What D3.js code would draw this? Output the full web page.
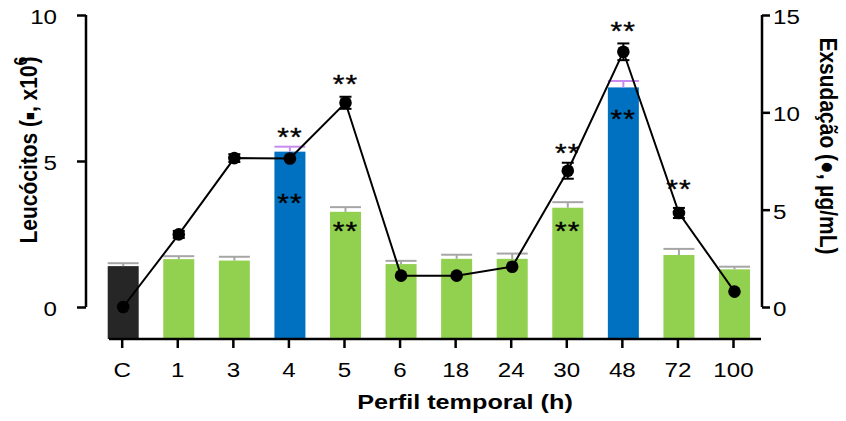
<!DOCTYPE html>
<html>
<head>
<meta charset="utf-8">
<script src="https://cdn.jsdelivr.net/npm/d3@7/dist/d3.min.js"></script>
<style>
  html, body { margin: 0; padding: 0; background: #fff; }
  svg { display: block; font-family: "Liberation Sans", Arial, sans-serif; }
</style>
</head>
<body>
<svg id="chart" width="846" height="421"></svg>
<script>
// Time points (h) and measurements
const categories = ["C", "1", "3", "4", "5", "6", "18", "24", "30", "48", "72", "100"];
// Leucocytes (x10^6), bars, left axis
const leuco    = [1.40, 1.64, 1.59, 5.32, 3.26, 1.47, 1.65, 1.65, 3.40, 7.52, 1.78, 1.29];
const leucoErr = [0.10, 0.10, 0.13, 0.17, 0.16, 0.11, 0.14, 0.18, 0.19, 0.22, 0.21, 0.09];
// Exudation (µg/mL), line, right axis
const exsud    = [0.00, 3.73, 7.65, 7.63, 10.49, 1.61, 1.61, 2.07, 7.00, 13.11, 4.83, 0.79];
const exsudErr = [0.00, 0.18, 0.20, 0.00, 0.31, 0.00, 0.00, 0.00, 0.41, 0.43, 0.26, 0.00];
// Bar groups: control, regular time point, peak time point
const barGroup = ["control", "time", "time", "peak", "time", "time", "time", "time", "time", "peak", "time", "time"];
// Significance (**) marks
const sigLine = ["4", "5", "30", "48", "72"];
const sigBar  = ["4", "5", "30", "48"];
// Axis ticks
const leftTicks  = [0, 5, 10];
const rightTicks = [0, 5, 10, 15];

const svg = d3.select("#chart");
const FONT = "'Liberation Sans', Arial, sans-serif";
const STRETCH = 1.15;

const x  = d3.scalePoint().domain(categories).range([121.7, 733]);
const yL = d3.scaleLinear().domain([0, 10]).range([307, 15]);
const yR = d3.scaleLinear().domain([0, 15]).range([307, 15]);
const axisY = 339;
const barW = 31;
const cx = c => x(c) + 1.5;

const fillOf = { control: "#262626", time: "#92d050", peak: "#0070c0" };
const errOf  = { control: "#a6a6a6", time: "#a6a6a6", peak: "#c98bf0" };

const rows = categories.map((c, i) => ({
  c, v: leuco[i], e: leucoErr[i], w: exsud[i], we: exsudErr[i], g: barGroup[i]
}));

// Bars
svg.append("g").selectAll("rect").data(rows).join("rect")
  .attr("x", d => cx(d.c) - barW / 2)
  .attr("y", d => yL(d.v))
  .attr("width", barW)
  .attr("height", d => axisY - yL(d.v))
  .attr("fill", d => fillOf[d.g]);

// Bar error bars (upper only)
const be = svg.append("g").selectAll("g").data(rows).join("g")
  .attr("stroke", d => errOf[d.g]).attr("stroke-width", 2);
be.append("line")
  .attr("x1", d => cx(d.c)).attr("x2", d => cx(d.c))
  .attr("y1", d => yL(d.v)).attr("y2", d => yL(d.v + d.e));
be.append("line")
  .attr("x1", d => cx(d.c) - barW / 2).attr("x2", d => cx(d.c) + barW / 2)
  .attr("y1", d => yL(d.v + d.e)).attr("y2", d => yL(d.v + d.e));

// Exudation line
svg.append("path").datum(rows)
  .attr("fill", "none").attr("stroke", "#000").attr("stroke-width", 2)
  .attr("d", d3.line().x(d => cx(d.c)).y(d => yR(d.w)));

// Line error bars
const le = svg.append("g").selectAll("g").data(rows.filter(d => d.we > 0)).join("g")
  .attr("stroke", "#000").attr("stroke-width", 2);
le.append("line")
  .attr("x1", d => cx(d.c)).attr("x2", d => cx(d.c))
  .attr("y1", d => yR(d.w - d.we)).attr("y2", d => yR(d.w + d.we));
[-1, 1].forEach(s => {
  le.append("line")
    .attr("x1", d => cx(d.c) - 6).attr("x2", d => cx(d.c) + 6)
    .attr("y1", d => yR(d.w + s * d.we)).attr("y2", d => yR(d.w + s * d.we));
});

// Points
svg.append("g").selectAll("circle").data(rows).join("circle")
  .attr("cx", d => cx(d.c)).attr("cy", d => yR(d.w))
  .attr("r", 6.3).attr("fill", "#000");

// Significance marks
function stars(px, py) {
  svg.append("text")
    .attr("transform", `translate(${px},${py + 15}) scale(${STRETCH},1)`)
    .attr("text-anchor", "middle")
    .attr("font-family", FONT).attr("font-size", 26)
    .attr("letter-spacing", 1)
    .attr("stroke", "#000").attr("stroke-width", 0.4)
    .attr("fill", "#000")
    .text("**");
}
const lineDrop = { "4": 27, "5": 25, "30": 24, "48": 27, "72": 30 };
sigLine.forEach(c => {
  const i = categories.indexOf(c);
  stars(cx(c), yR(exsud[i]) - lineDrop[c]);
});
const barDrop = { "4": 45, "5": 13, "30": 17, "48": 26 };
sigBar.forEach(c => {
  const i = categories.indexOf(c);
  stars(cx(c), yL(leuco[i]) + barDrop[c]);
});

// Left axis
const gL = svg.append("g").attr("transform", "translate(86,0)")
  .call(d3.axisLeft(yL).tickValues(leftTicks).tickSize(9).tickPadding(10).tickFormat(d3.format("d")));
gL.select(".domain").attr("stroke-width", 2.5).attr("d", `M0,${yL(10)}V${yL(0)}`);
gL.selectAll(".tick line").attr("stroke-width", 2.5);
gL.selectAll(".tick text")
  .attr("font-family", FONT).attr("font-size", 21).attr("fill", "#000")
  .attr("transform", `scale(${STRETCH},1)`).attr("x", -29 / STRETCH).attr("dy", "0.4em");

// Right axis
const gR = svg.append("g").attr("transform", "translate(762,0)")
  .call(d3.axisRight(yR).tickValues(rightTicks).tickSize(8).tickPadding(3).tickFormat(d3.format("d")));
gR.select(".domain").attr("stroke-width", 2.5).attr("d", `M0,${yR(15)}V${yR(0)}`);
gR.selectAll(".tick line").attr("stroke-width", 2.5);
gR.selectAll(".tick text")
  .attr("font-family", FONT).attr("font-size", 21).attr("fill", "#000")
  .attr("transform", `scale(${STRETCH},1)`).attr("x", 11 / STRETCH).attr("dy", "0.4em");

// Bottom axis
const gB = svg.append("g").attr("transform", `translate(0,${axisY})`)
  .call(d3.axisBottom(x).tickSize(9).tickPadding(9));
gB.select(".domain").attr("stroke-width", 2.5).attr("d", "M109,0H761");
gB.selectAll(".tick line").attr("stroke-width", 2.5);
gB.selectAll(".tick text")
  .attr("font-family", FONT).attr("font-size", 21).attr("fill", "#000")
  .attr("transform", `scale(${STRETCH},1)`).attr("dy", "0.95em");

// Axis titles
svg.append("text")
  .attr("transform", `translate(465,409) scale(1.2,1)`)
  .attr("text-anchor", "middle")
  .attr("font-family", FONT).attr("font-size", 21).attr("font-weight", "bold")
  .text("Perfil temporal (h)");

const tl = svg.append("text")
  .attr("transform", `translate(37,150) scale(${STRETCH},1) rotate(-90)`)
  .attr("text-anchor", "middle")
  .attr("font-family", FONT).attr("font-size", 21).attr("font-weight", "bold");
tl.append("tspan").text("Leucócitos (");
tl.append("tspan").attr("font-size", 13).attr("dy", -2).text("■");
tl.append("tspan").attr("dy", 2).text(", x10");
tl.append("tspan").attr("dy", -9).attr("font-size", 16).text("6");
tl.append("tspan").attr("dy", 9).attr("dx", -7).text(")");

svg.append("text")
  .attr("transform", `translate(820,146) scale(${STRETCH},1) rotate(90)`)
  .attr("text-anchor", "middle")
  .attr("font-family", FONT).attr("font-size", 21).attr("font-weight", "bold")
  .text("Exsudação (●, µg/mL)");
</script>
</body>
</html>
